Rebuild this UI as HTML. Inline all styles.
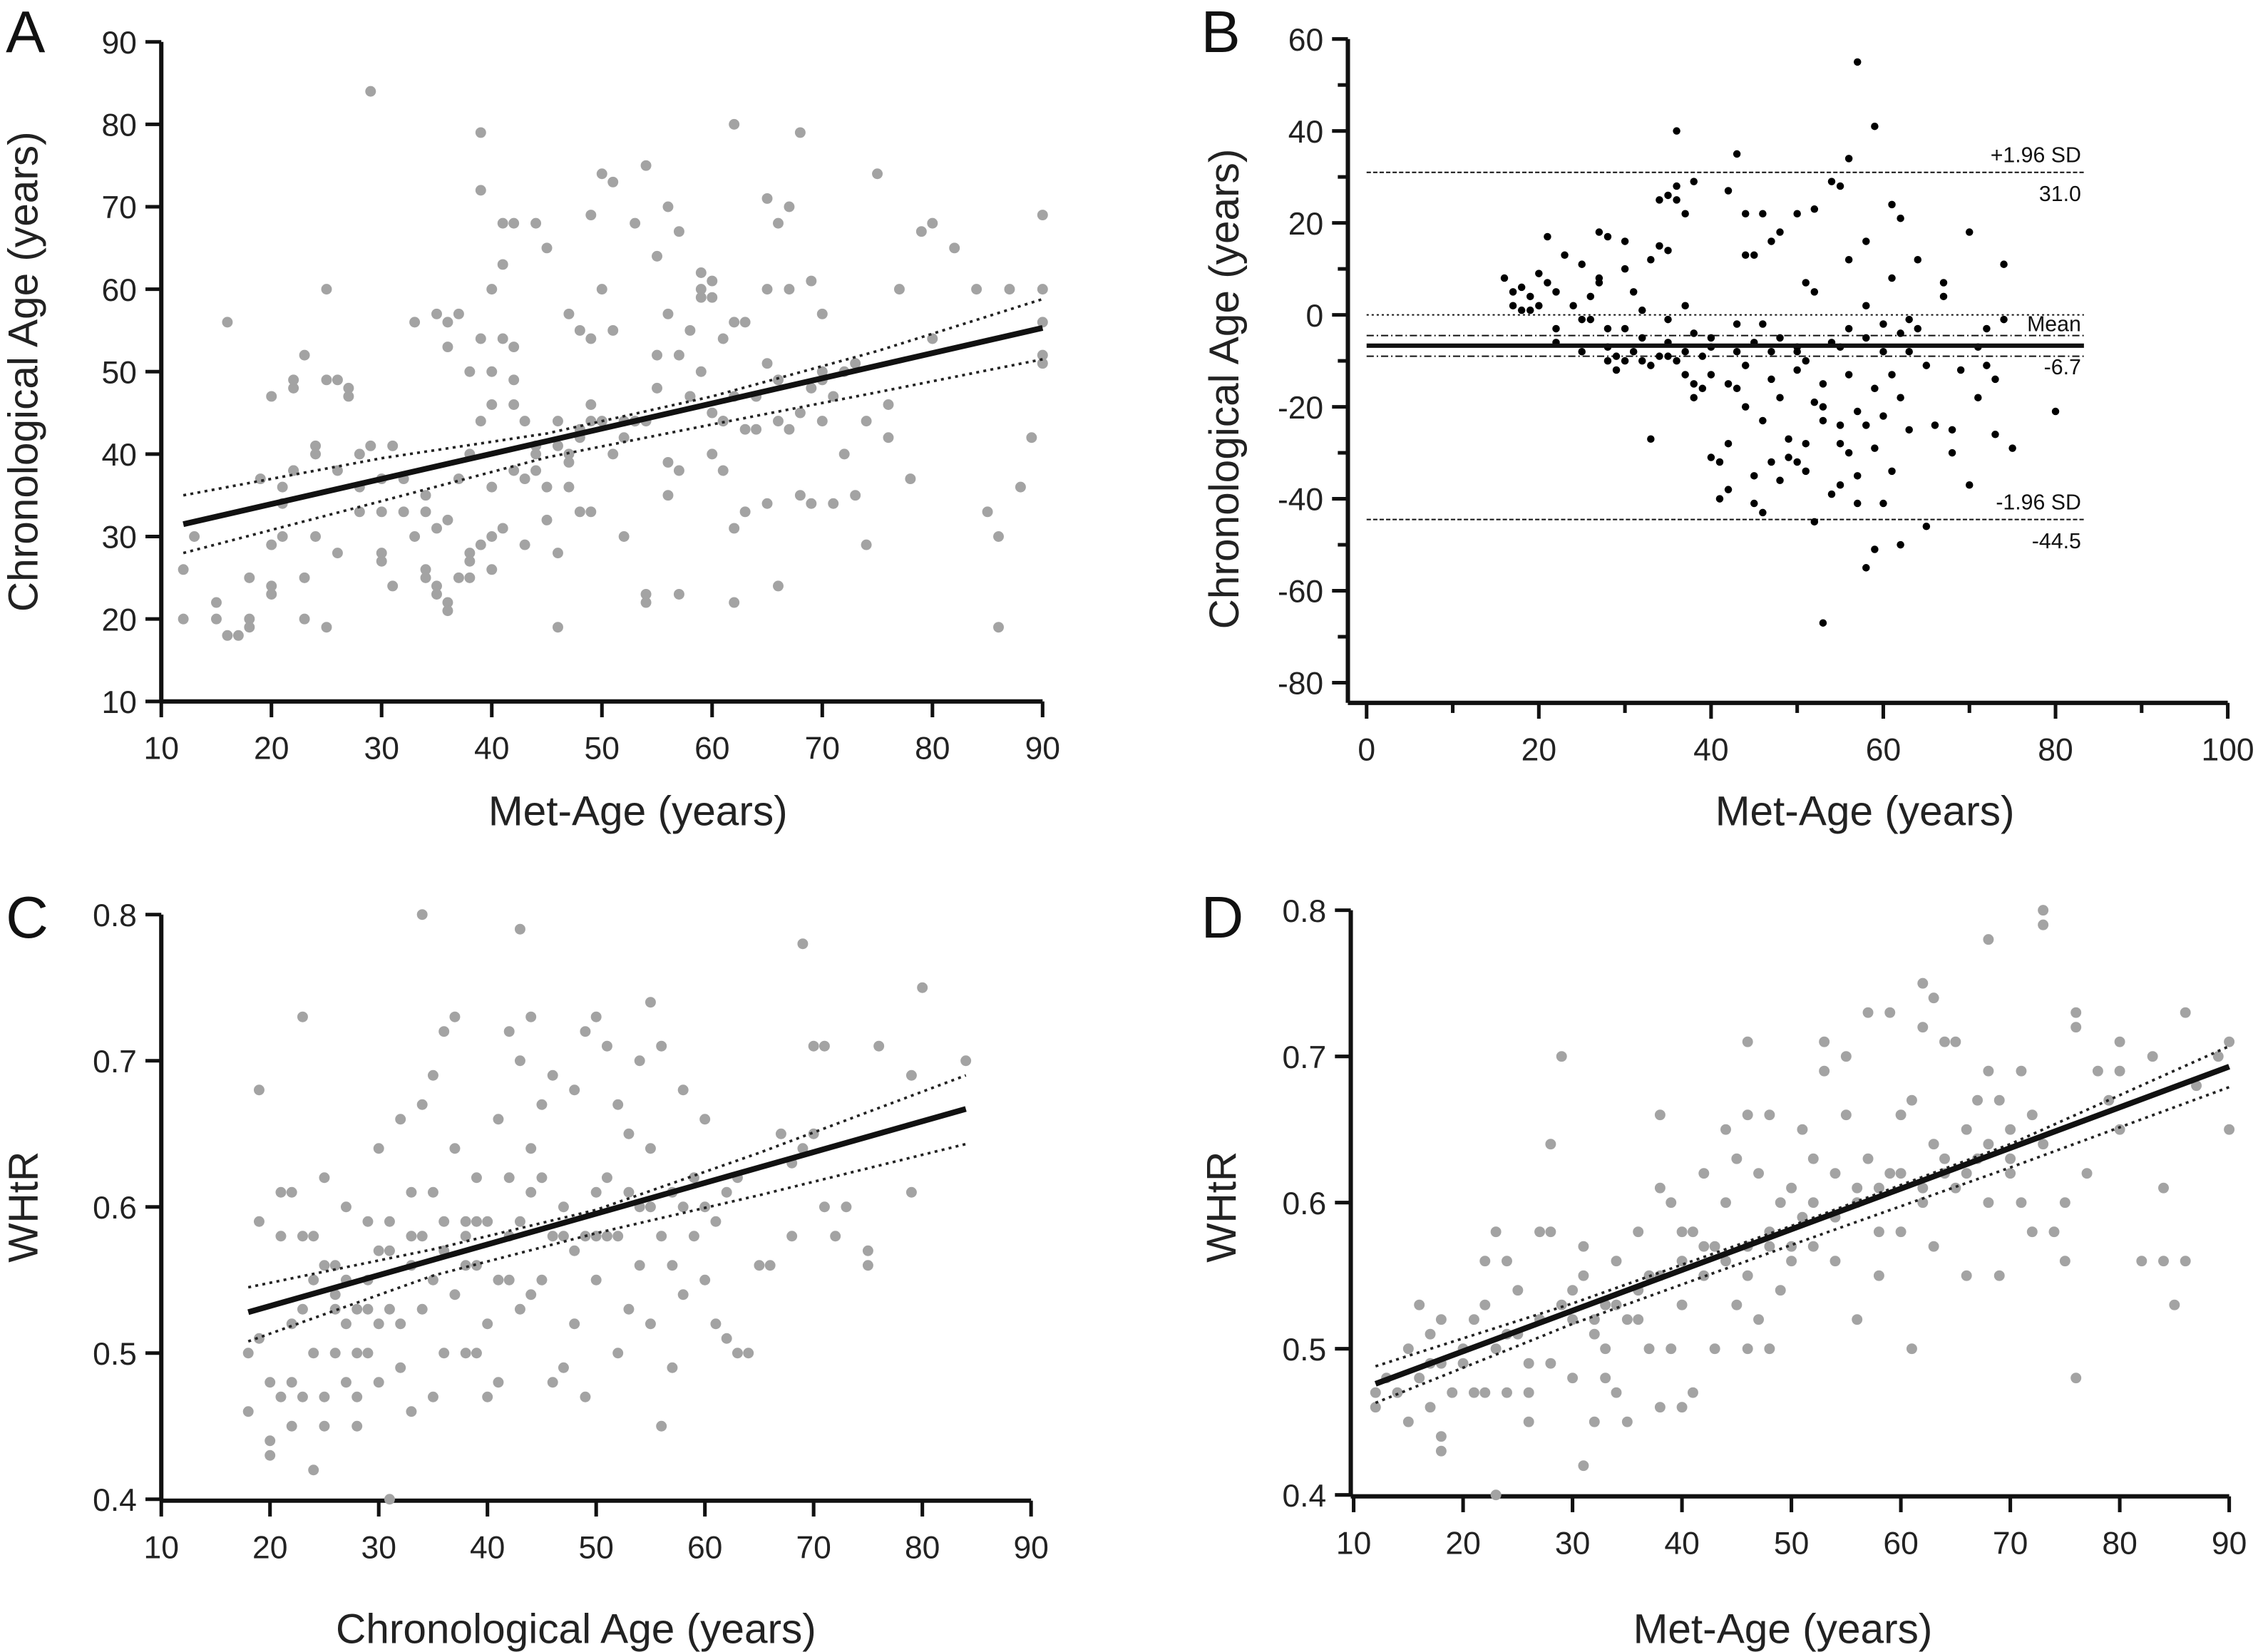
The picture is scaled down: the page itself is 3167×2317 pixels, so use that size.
<!DOCTYPE html>
<html><head><meta charset="utf-8"><style>
html,body{margin:0;padding:0;background:#fff}
svg{display:block;font-family:"Liberation Sans",Arial,sans-serif}
</style></head><body>
<svg id="fig" width="3167" height="2317" viewBox="0 0 1568 1147" xmlns="http://www.w3.org/2000/svg">
<g id="A"></g>
<g id="B"></g>
<g id="C"></g>
<g id="D"></g>
</svg>
<script>
// Panel A: Met-Age vs Chronological Age
const aPoints=[[12,26],[12,20],[13,30],[16,56],[15,22],[15,20],[16,18],[17,18],[18,25],[18,20],[18,19],[20,24],[20,23],[21,36],[21,30],[22,38],[22,48],[22,49],[23,52],[23,25],[23,20],[24,41],[24,30],[25,60],[25,49],[25,19],[26,49],[26,28],[27,47],[27,48],[28,33],[28,40],[29,84],[30,37],[30,28],[30,27],[31,41],[31,24],[32,33],[33,56],[33,30],[34,35],[34,26],[34,25],[35,23],[35,57],[35,24],[36,22],[36,21],[36,56],[36,53],[37,25],[37,57],[38,40],[38,25],[38,28],[38,27],[39,44],[39,29],[39,54],[39,72],[39,79],[40,50],[40,26],[40,36],[40,30],[40,60],[41,63],[41,68],[41,54],[41,31],[42,68],[42,53],[42,49],[43,37],[43,29],[44,68],[44,41],[45,65],[45,36],[45,32],[46,44],[46,41],[46,19],[46,28],[47,57],[47,40],[47,36],[48,43],[48,55],[48,33],[49,69],[49,54],[49,46],[49,33],[50,74],[50,44],[50,60],[51,73],[51,55],[52,42],[52,30],[53,68],[53,44],[54,75],[54,23],[54,22],[55,48],[55,64],[56,70],[56,57],[56,35],[57,67],[57,38],[57,23],[58,55],[58,47],[59,60],[59,59],[59,62],[59,50],[60,61],[60,40],[60,59],[60,45],[61,44],[61,38],[62,80],[62,56],[62,31],[62,22],[63,43],[63,33],[64,43],[64,47],[65,71],[65,51],[65,34],[66,68],[66,44],[66,24],[67,60],[67,70],[67,43],[68,45],[68,35],[68,79],[69,61],[69,48],[69,34],[70,57],[70,44],[70,50],[71,47],[71,34],[72,40],[72,50],[73,35],[74,44],[74,29],[75,74],[76,46],[76,42],[77,60],[78,37],[79,67],[80,54],[80,68],[82,65],[84,60],[85,33],[86,30],[86,19],[87,60],[88,36],[89,42],[90,52],[90,51],[90,56],[90,60],[90,69],[64,47],[58,47],[54,44],[44,40],[47,39],[52,44],[61,44],[56,39],[66,49],[70,49],[73,51],[48,42],[44,38],[42,38],[37,37],[32,37],[28,36],[26,38],[24,40],[22,38],[21,34],[20,29],[19,37],[20,47],[34,33],[35,31],[36,32],[30,33],[29,41],[61,54],[63,56],[65,60],[62,47],[57,52],[55,52],[53,44],[51,40],[49,44],[43,44],[42,46],[40,46],[38,50]];
const aFit=[[12,31.5],[90,55.3]];
const aUpper=[[12,35],[30,39.5],[45,42.5],[60,47],[75,52.5],[90,58.8]];
const aLower=[[12,28],[30,34.3],[45,39.6],[60,43.6],[75,47.5],[90,51.5]];
const aXTicks=[10,20,30,40,50,60,70,80,90];
const aYTicks=[10,20,30,40,50,60,70,80,90];

// Panel B: Bland-Altman
const bPoints=[[16,8],[17,5],[17,2],[18,1],[18,6],[19,1],[19,4],[20,9],[20,2],[21,17],[21,7],[22,5],[22,-3],[22,-6],[23,13],[24,2],[25,11],[25,-1],[26,-1],[26,4],[27,7],[27,18],[27,8],[28,17],[28,-3],[28,-7],[29,-12],[29,-9],[30,16],[30,10],[30,-10],[31,5],[31,-8],[32,-10],[32,1],[33,12],[33,-27],[34,-9],[34,15],[34,25],[35,-9],[35,14],[35,26],[36,40],[36,25],[36,28],[36,-10],[37,22],[37,-8],[37,2],[38,-18],[38,29],[38,-15],[39,-16],[39,-9],[40,-31],[40,-5],[41,-32],[41,-40],[42,-38],[42,-15],[42,27],[43,-8],[43,35],[43,-2],[44,22],[44,13],[44,-11],[45,13],[45,-41],[45,-35],[46,-43],[46,22],[46,-23],[47,16],[47,-8],[47,-32],[48,18],[48,-18],[48,-5],[49,-27],[49,-31],[50,-32],[50,22],[50,-7],[51,-34],[51,7],[51,-10],[52,-45],[52,23],[52,-19],[53,-67],[53,-20],[53,-23],[54,29],[54,-39],[54,-6],[55,-24],[55,28],[55,-28],[56,34],[56,-30],[56,-3],[57,55],[57,-21],[57,-41],[58,-55],[58,-24],[58,16],[59,41],[59,-51],[59,-29],[60,-22],[60,-2],[60,-41],[61,24],[61,-13],[61,8],[62,-50],[62,21],[62,-18],[63,-8],[63,-25],[64,12],[64,-3],[65,-46],[65,-11],[67,7],[67,4],[68,-25],[68,-30],[70,18],[70,-37],[71,-7],[72,-11],[72,-3],[73,-14],[73,-26],[74,11],[74,-1],[75,-29],[80,-21],[30,-3],[32,-5],[35,-6],[40,-7],[45,-6],[50,-8],[55,-7],[58,-5],[60,-8],[62,-4],[25,-8],[28,-10],[33,-11],[38,-4],[43,-16],[47,-14],[50,-12],[53,-15],[56,-13],[59,-16],[44,-20],[51,-28],[57,-35],[42,-28],[48,-36],[55,-37],[61,-34],[37,-13],[46,-2],[52,5],[56,12],[58,2],[63,-1],[66,-24],[69,-12],[71,-18],[40,-13],[35,-1]];
const bUpperLoA=31.0;
const bMean=-6.7;
const bLowerLoA=-44.5;
const bMeanCI=[-4.5,-9.0];
const bXTicks=[0,20,40,60,80,100];
const bYTicks=[60,40,20,0,-20,-40,-60,-80];

// Panel C: Chronological Age vs WHtR
const cPoints=[[18,0.50],[18,0.46],[19,0.68],[19,0.59],[19,0.51],[20,0.44],[20,0.48],[20,0.43],[21,0.58],[21,0.61],[22,0.61],[22,0.45],[22,0.48],[23,0.53],[23,0.73],[23,0.58],[23,0.47],[24,0.42],[24,0.50],[24,0.55],[25,0.62],[25,0.56],[25,0.47],[25,0.45],[26,0.54],[26,0.56],[26,0.50],[27,0.52],[27,0.60],[27,0.48],[28,0.53],[28,0.47],[28,0.45],[28,0.50],[29,0.55],[29,0.59],[29,0.53],[30,0.52],[30,0.48],[30,0.64],[31,0.40],[31,0.59],[31,0.57],[32,0.66],[32,0.49],[32,0.52],[33,0.61],[33,0.56],[33,0.46],[34,0.80],[34,0.67],[34,0.58],[34,0.53],[35,0.69],[35,0.61],[35,0.55],[35,0.47],[36,0.72],[36,0.57],[36,0.50],[37,0.73],[37,0.64],[37,0.54],[38,0.59],[38,0.50],[38,0.58],[39,0.56],[39,0.62],[39,0.50],[40,0.59],[40,0.52],[40,0.47],[41,0.66],[41,0.55],[41,0.48],[42,0.72],[42,0.62],[42,0.58],[43,0.79],[43,0.70],[43,0.59],[43,0.53],[44,0.73],[44,0.64],[44,0.54],[45,0.67],[45,0.55],[46,0.69],[46,0.58],[46,0.48],[47,0.60],[47,0.49],[48,0.57],[48,0.68],[48,0.52],[49,0.72],[49,0.58],[49,0.47],[50,0.73],[50,0.61],[50,0.55],[51,0.71],[51,0.62],[52,0.67],[52,0.58],[52,0.50],[53,0.65],[53,0.53],[54,0.60],[54,0.70],[54,0.56],[55,0.74],[55,0.64],[55,0.52],[56,0.71],[56,0.58],[56,0.45],[57,0.61],[57,0.49],[58,0.68],[58,0.60],[58,0.54],[59,0.58],[59,0.62],[60,0.66],[60,0.55],[61,0.59],[61,0.52],[62,0.61],[63,0.62],[64,0.50],[65,0.56],[66,0.56],[67,0.65],[68,0.63],[68,0.58],[69,0.78],[69,0.64],[70,0.71],[70,0.65],[71,0.71],[71,0.60],[72,0.58],[73,0.60],[75,0.57],[75,0.56],[76,0.71],[79,0.69],[79,0.61],[80,0.75],[84,0.70],[62,0.51],[63,0.50],[57,0.56],[53,0.61],[51,0.58],[47,0.58],[45,0.62],[42,0.55],[39,0.59],[36,0.59],[33,0.58],[31,0.53],[29,0.50],[27,0.55],[26,0.53],[24,0.58],[22,0.52],[21,0.47],[30,0.57],[38,0.56],[44,0.61],[50,0.58],[55,0.60],[60,0.60]];
const cFit=[[18,0.528],[84,0.667]];
const cUpper=[[18,0.545],[35,0.571],[50,0.598],[65,0.637],[84,0.690]];
const cLower=[[18,0.508],[35,0.553],[50,0.582],[65,0.608],[84,0.643]];
const cXTicks=[10,20,30,40,50,60,70,80,90];
const cYTicks=[0.4,0.5,0.6,0.7,0.8];

// Panel D: Met-Age vs WHtR
const dPoints=[[12,0.46],[12,0.47],[13,0.48],[14,0.47],[15,0.45],[15,0.50],[16,0.53],[16,0.48],[17,0.46],[17,0.51],[18,0.52],[18,0.43],[18,0.44],[18,0.49],[19,0.47],[20,0.50],[21,0.47],[21,0.52],[22,0.56],[22,0.53],[22,0.47],[23,0.58],[23,0.40],[23,0.50],[24,0.56],[24,0.47],[25,0.54],[25,0.51],[26,0.47],[26,0.45],[27,0.58],[27,0.52],[28,0.64],[28,0.58],[28,0.49],[29,0.70],[29,0.53],[30,0.54],[30,0.48],[31,0.42],[31,0.55],[31,0.57],[32,0.52],[32,0.45],[33,0.50],[33,0.53],[33,0.48],[34,0.47],[34,0.56],[35,0.45],[35,0.52],[36,0.58],[36,0.54],[37,0.55],[37,0.50],[38,0.61],[38,0.66],[38,0.46],[39,0.60],[39,0.50],[40,0.58],[40,0.53],[40,0.46],[41,0.58],[41,0.47],[42,0.62],[42,0.55],[43,0.57],[43,0.50],[44,0.65],[44,0.60],[45,0.63],[45,0.53],[46,0.71],[46,0.66],[46,0.55],[46,0.50],[47,0.62],[47,0.52],[48,0.66],[48,0.57],[48,0.50],[49,0.60],[49,0.54],[50,0.61],[50,0.56],[51,0.59],[51,0.65],[52,0.63],[52,0.57],[53,0.71],[53,0.69],[54,0.62],[54,0.56],[55,0.70],[55,0.66],[56,0.61],[56,0.52],[57,0.73],[57,0.63],[58,0.58],[58,0.55],[59,0.73],[59,0.62],[60,0.66],[60,0.58],[61,0.67],[61,0.50],[62,0.75],[62,0.72],[62,0.60],[63,0.74],[63,0.64],[63,0.57],[64,0.71],[64,0.62],[65,0.71],[65,0.61],[66,0.65],[66,0.55],[67,0.67],[67,0.63],[68,0.78],[68,0.69],[68,0.60],[69,0.67],[69,0.55],[70,0.65],[70,0.62],[71,0.69],[71,0.60],[72,0.66],[72,0.58],[73,0.80],[73,0.79],[73,0.64],[74,0.58],[75,0.60],[75,0.56],[76,0.73],[76,0.72],[76,0.48],[77,0.62],[78,0.69],[79,0.67],[80,0.71],[80,0.69],[80,0.65],[82,0.56],[83,0.70],[84,0.61],[84,0.56],[85,0.53],[86,0.73],[86,0.56],[87,0.68],[89,0.70],[90,0.71],[90,0.65],[24,0.51],[26,0.49],[30,0.52],[32,0.51],[34,0.53],[36,0.52],[38,0.55],[40,0.56],[42,0.57],[44,0.56],[46,0.57],[48,0.58],[50,0.57],[52,0.60],[54,0.59],[56,0.60],[58,0.61],[60,0.62],[62,0.61],[64,0.63],[66,0.62],[68,0.64],[70,0.63],[20,0.49],[17,0.49]];
const dFit=[[12,0.476],[90,0.693]];
const dUpper=[[12,0.488],[30,0.531],[50,0.584],[70,0.640],[90,0.707]];
const dLower=[[12,0.463],[30,0.517],[50,0.571],[70,0.624],[90,0.679]];
const dXTicks=[10,20,30,40,50,60,70,80,90];
const dYTicks=[0.4,0.5,0.6,0.7,0.8];

const NS='http://www.w3.org/2000/svg';
function mk(tag,attrs,parent){const e=document.createElementNS(NS,tag);for(const k in attrs)e.setAttribute(k,attrs[k]);parent.appendChild(e);return e;}
function scale(d0,d1,r0,r1){return v=>r0+(v-d0)/(d1-d0)*(r1-r0);}

function axes(g,o){
  const X=o.x,Y=o.y;
  const xa=mk('line',{x1:o.axX,y1:o.axY,x2:o.xEnd,y2:o.axY,stroke:'#111','stroke-width':3},g);
  
  
  const ya=mk('line',{x1:o.axX,y1:o.axY,x2:o.axX,y2:o.yEnd,stroke:'#111','stroke-width':3},g);
  
  
  (o.xMinor||[]).forEach(v=>{mk('line',{x1:X(v),y1:o.axY,x2:X(v),y2:o.axY+7,stroke:'#111','stroke-width':2.5},g);});
  (o.yMinor||[]).forEach(v=>{mk('line',{x1:o.axX,y1:Y(v),x2:o.axX-7,y2:Y(v),stroke:'#111','stroke-width':2.5},g);});
  o.xt.forEach(v=>{
    mk('line',{x1:X(v),y1:o.axY,x2:X(v),y2:o.axY+11,stroke:'#111','stroke-width':2.5},g);
    const t=mk('text',{x:X(v),y:o.axY+40,'font-size':22,'text-anchor':'middle',fill:'#222'},g);t.textContent=o.xf?o.xf(v):v;
    
    
  });
  o.yt.forEach(v=>{
    mk('line',{x1:o.axX,y1:Y(v),x2:o.axX-11,y2:Y(v),stroke:'#111','stroke-width':2.5},g);
    const t=mk('text',{x:o.axX-17,y:Y(v)+8,'font-size':22,'text-anchor':'end',fill:'#222'},g);t.textContent=o.yf?o.yf(v):v;
    
    
  });
  const xt=mk('text',{x:o.xtx,y:o.xty,'font-size':29,'text-anchor':'middle',fill:'#222'},g);xt.textContent=o.xTitle;
  
  
  const yt=mk('text',{x:0,y:0,'font-size':29,'text-anchor':'middle',fill:'#222',transform:`translate(${o.ytx},${o.yty}) rotate(-90)`},g);yt.textContent=o.yTitle;
  
  
  const L=mk('text',{x:o.lx,y:o.ly,'font-size':41,fill:'#111'},g);L.textContent=o.letter;
  
  
}
function pts(g,data,X,Y,r,col){
  data.forEach(p=>{const c=mk('circle',{cx:X(p[0]),cy:Y(p[1]),r:r,fill:col},g);
    
    });
}
function poly(g,data,X,Y,attrs,name){
  const e=mk('polyline',Object.assign({points:data.map(p=>X(p[0])+','+Y(p[1])).join(' '),fill:'none'},attrs),g);
  
  
}
function regPanel(id,o,data,fit,up,lo){
  const g=document.getElementById(id);
  axes(g,o);
  pts(g,data,o.x,o.y,3.7,'#a3a3a3');
  poly(g,up,o.x,o.y,{stroke:'#222','stroke-width':1.8,'stroke-dasharray':'2 3'},'ci-upper');
  poly(g,lo,o.x,o.y,{stroke:'#222','stroke-width':1.8,'stroke-dasharray':'2 3'},'ci-lower');
  poly(g,fit,o.x,o.y,{stroke:'#111','stroke-width':4},'regression-line');
}
// A
{const x=scale(10,90,112,724),y=scale(10,90,487,29);
regPanel('A',{x,y,axX:112,axY:487,xEnd:724,yEnd:29,xt:aXTicks,yt:aYTicks,xTitle:'Met-Age (years)',xtx:443,xty:573,yTitle:'Chronological Age (years)',ytx:26,yty:258,letter:'A',lx:4,ly:36},aPoints,aFit,aUpper,aLower);}
// C
{const x=scale(10,90,112,716),y=scale(0.4,0.8,1041,635);
regPanel('C',{x,y,axX:112,axY:1042,xEnd:716,yEnd:635,xt:cXTicks,yt:cYTicks,yf:v=>v.toFixed(1),xTitle:'Chronological Age (years)',xtx:400,xty:1141,yTitle:'WHtR',ytx:26,yty:838,letter:'C',lx:4,ly:651},cPoints,cFit,cUpper,cLower);}
// D
{const x=scale(10,90,940,1548),y=scale(0.4,0.8,1038,632);
regPanel('D',{x,y,axX:938,axY:1039,xEnd:1548,yEnd:632,xt:dXTicks,yt:dYTicks,yf:v=>v.toFixed(1),xTitle:'Met-Age (years)',xtx:1238,xty:1141,yTitle:'WHtR',ytx:858,yty:838,letter:'D',lx:834,ly:651},dPoints,dFit,dUpper,dLower);}
// B
{const g=document.getElementById('B');const x=scale(0,100,949,1547),y=scale(60,-80,27,474);
axes(g,{x,y,axX:936,axY:488,xEnd:1547,yEnd:27,xt:bXTicks,yt:bYTicks,xMinor:[10,30,50,70,90],yMinor:[50,30,10,-10,-30,-50,-70],xTitle:'Met-Age (years)',xtx:1295,xty:573,yTitle:'Chronological Age (years)',ytx:860,yty:270,letter:'B',lx:834,ly:36});
const xe=x(83.3);
function hl(v,attrs,name){const e=mk('line',Object.assign({x1:x(0),x2:xe,y1:y(v),y2:y(v),stroke:'#111'},attrs),g);
  
  }
hl(0,{'stroke-width':1,'stroke-dasharray':'1.5 2'},'zero-line');
hl(bUpperLoA,{'stroke-width':1,'stroke-dasharray':'3 1.5'},'upper-loa-line');
hl(bLowerLoA,{'stroke-width':1,'stroke-dasharray':'3 1.5'},'lower-loa-line');
hl(bMeanCI[0],{'stroke-width':1,'stroke-dasharray':'5 2 1 2'},'mean-ci-upper');
hl(bMeanCI[1],{'stroke-width':1,'stroke-dasharray':'5 2 1 2'},'mean-ci-lower');
pts(g,bPoints,x,y,2.6,'#000');
hl(bMean,{'stroke-width':3},'mean-line');
function lab(txt,v,dy,name){const t=mk('text',{x:xe-2,y:y(v)+dy,'font-size':15,'text-anchor':'end',fill:'#111'},g);t.textContent=txt;
  
  }
lab('+1.96 SD',bUpperLoA,-7,'upper-loa-label');lab(bUpperLoA.toFixed(1),bUpperLoA,20,'upper-loa-value');
lab('Mean',bMean,-10,'mean-label');lab(bMean.toFixed(1),bMean,20,'mean-value');
lab('-1.96 SD',bLowerLoA,-7,'lower-loa-label');lab(bLowerLoA.toFixed(1),bLowerLoA,20,'lower-loa-value');
}
</script>
</body></html>
